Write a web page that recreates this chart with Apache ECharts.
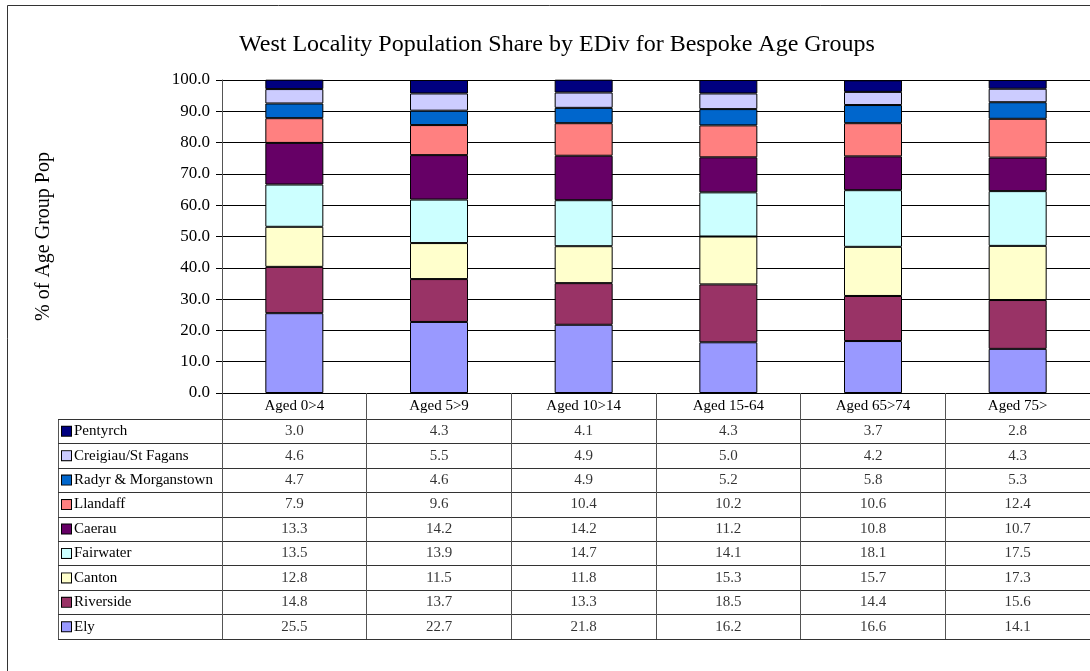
<!DOCTYPE html>
<html>
<head>
<meta charset="utf-8">
<script src="https://cdn.jsdelivr.net/npm/echarts@6/dist/echarts.min.js"></script>
<style>
  html, body { margin: 0; padding: 0; background: #fff; }
  #main { width: 1090px; height: 671px; }
</style>
</head>
<body>
<div id="main"></div>
<script>
// age groups (columns)
var categories = ['Aged 0>4', 'Aged 5>9', 'Aged 10>14', 'Aged 15-64', 'Aged 65>74', 'Aged 75>'];
var yTicks = [0, 10, 20, 30, 40, 50, 60, 70, 80, 90, 100];

// % share per EDiv
var pentyrch  = [3.0, 4.3, 4.1, 4.3, 3.7, 2.8];
var creigiau  = [4.6, 5.5, 4.9, 5.0, 4.2, 4.3];
var radyr     = [4.7, 4.6, 4.9, 5.2, 5.8, 5.3];
var llandaff  = [7.9, 9.6, 10.4, 10.2, 10.6, 12.4];
var caerau    = [13.3, 14.2, 14.2, 11.2, 10.8, 10.7];
var fairwater = [13.5, 13.9, 14.7, 14.1, 18.1, 17.5];
var canton    = [12.8, 11.5, 11.8, 15.3, 15.7, 17.3];
var riverside = [14.8, 13.7, 13.3, 18.5, 14.4, 15.6];
var ely       = [25.5, 22.7, 21.8, 16.2, 16.6, 14.1];

// table order (top to bottom)
var names = ['Pentyrch', 'Creigiau/St Fagans', 'Radyr & Morganstown', 'Llandaff', 'Caerau',
             'Fairwater', 'Canton', 'Riverside', 'Ely'];
var values = [pentyrch, creigiau, radyr, llandaff, caerau, fairwater, canton, riverside, ely];
var colors = ['#000080', '#CCCCFF', '#0066CC', '#FF8080', '#660066',
              '#CCFFFF', '#FFFFCC', '#993366', '#9999FF'];

var font = 'Liberation Serif, Times New Roman, serif';

var myChart = echarts.init(document.getElementById('main'));

// stacked bars, Ely at the bottom
var series = [];
for (var i = names.length - 1; i >= 0; i--) {
  series.push({
    name: names[i],
    type: 'bar',
    stack: 'total',
    xAxisIndex: 0,
    yAxisIndex: 0,
    barWidth: 58,
    itemStyle: { color: colors[i], borderColor: '#000', borderWidth: 1 },
    data: values[i]
  });
}

// data table values
var cells = [];
names.forEach(function (n, r) {
  values[r].forEach(function (v, c) { cells.push([c, r, v]); });
});
series.push({
  type: 'scatter',
  xAxisIndex: 1,
  yAxisIndex: 1,
  symbolSize: 0,
  silent: true,
  label: {
    show: true,
    position: 'inside',
    color: '#000',
    fontFamily: font,
    fontSize: 15,
    formatter: function (p) { return p.value[2].toFixed(1); }
  },
  data: cells
});

// legend keys in the table row labels
var rich = { n: { fontFamily: font, fontSize: 15, color: '#000', padding: [0, 0, 0, 3] } };
colors.forEach(function (c, i) {
  rich['k' + i] = { width: 9, height: 9, backgroundColor: c, borderColor: '#000', borderWidth: 1 };
});

var option = {
  animation: false,
  backgroundColor: '#fff',
  title: {
    text: 'West Locality Population Share by EDiv for Bespoke Age Groups',
    left: 234,
    top: 28,
    textStyle: { fontFamily: font, fontSize: 24, fontWeight: 'normal', color: '#000' }
  },
  grid: [
    { left: 222, top: 80, height: 313, right: 0 },
    { left: 222, top: 419, height: 220, right: 0 }
  ],
  xAxis: [
    {
      gridIndex: 0,
      type: 'category',
      data: categories,
      axisLine: { lineStyle: { color: '#000' } },
      axisTick: { show: true, alignWithLabel: false, length: 26, lineStyle: { color: '#555' } },
      axisLabel: { color: '#000', fontFamily: font, fontSize: 15, margin: 6 }
    },
    {
      gridIndex: 1,
      type: 'category',
      data: categories,
      axisLine: { show: false },
      axisTick: { show: false },
      axisLabel: { show: false },
      splitLine: { show: true, lineStyle: { color: '#555' } }
    }
  ],
  yAxis: [
    {
      gridIndex: 0,
      type: 'value',
      min: 0,
      max: 100,
      interval: 10,
      name: '% of Age Group Pop',
      nameLocation: 'middle',
      nameGap: 168,
      nameTextStyle: { fontFamily: font, fontSize: 20, color: '#000' },
      axisLine: { show: true, lineStyle: { color: '#555' } },
      axisTick: { show: true, length: 6, lineStyle: { color: '#000' } },
      axisLabel: {
        color: '#000', fontFamily: font, fontSize: 17, margin: 12,
        formatter: function (v) { return yTicks.indexOf(v) >= 0 ? v.toFixed(1) : ''; }
      },
      splitLine: { show: true, lineStyle: { color: '#000' } }
    },
    {
      gridIndex: 1,
      type: 'category',
      inverse: true,
      data: names,
      axisLine: { show: true, lineStyle: { color: '#555' } },
      axisTick: { show: true, alignWithLabel: false, length: 164, lineStyle: { color: '#333' } },
      axisLabel: {
        align: 'left',
        margin: 160,
        rich: rich,
        formatter: function (v) { return '{k' + names.indexOf(v) + '| }{n|' + v + '}'; }
      },
      splitLine: { show: true, lineStyle: { color: '#333' } }
    }
  ],
  graphic: [
    {
      type: 'rect',
      shape: { x: 7.5, y: 5.5, width: 1100, height: 700 },
      style: { fill: 'none', stroke: '#333', lineWidth: 1 },
      silent: true
    },
    {
      type: 'line',
      shape: { x1: 58.5, y1: 419, x2: 58.5, y2: 639 },
      style: { stroke: '#555', lineWidth: 1 },
      silent: true
    },
    {
      type: 'line',
      shape: { x1: 58, y1: 639.5, x2: 1090, y2: 639.5 },
      style: { stroke: '#555', lineWidth: 1 },
      silent: true
    }
  ],
  series: series
};

myChart.setOption(option);
</script>
</body>
</html>
